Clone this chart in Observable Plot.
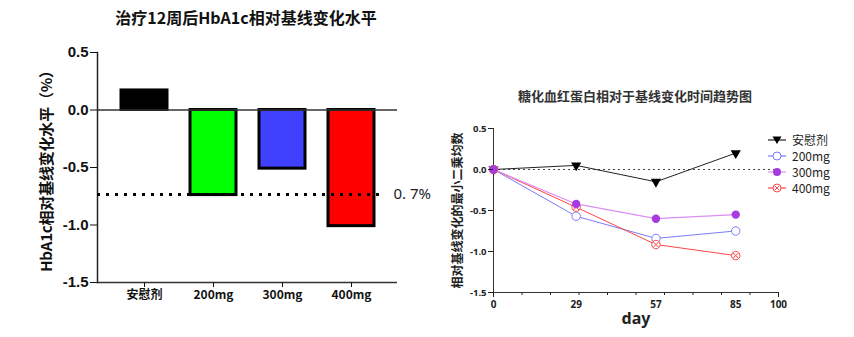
<!DOCTYPE html>
<html><head><meta charset="utf-8">
<script src="https://cdn.jsdelivr.net/npm/d3@7"></script>
<script src="https://cdn.jsdelivr.net/npm/@observablehq/plot@0.6"></script>
<style>
body{margin:0;background:#fff;width:854px;height:337px;position:relative;overflow:hidden;font-family:"Liberation Sans",Arial,"Noto Sans CJK SC",sans-serif;}
.abs{position:absolute;}
#t1{left:0;width:492px;top:5px;text-align:center;font:bold 16px "Noto Sans CJK SC",sans-serif;color:#111;}
#t2{left:430px;width:410px;top:86px;text-align:center;font:bold 13px "Noto Sans CJK SC",sans-serif;color:#333;}
#c1{left:0;top:40px;}
#c2{left:430px;top:110px;}
#c1 g[aria-label="y-axis tick label"] text{font-weight:bold;font-size:15px;font-family:"Liberation Sans",Arial,sans-serif;}
#c1 g[aria-label="y-axis label"] text{font-weight:bold;font-size:15px;font-family:"Noto Sans CJK SC",sans-serif;letter-spacing:-0.2px;}
#c1 g[aria-label="x-axis tick label"] text{font-weight:bold;font-size:12px;font-family:"Noto Sans CJK SC",sans-serif;}
#c2 g[aria-label="y-axis tick label"] text{font-weight:bold;font-size:9.5px;}
#c2 g[aria-label="y-axis label"] text{font-weight:bold;font-size:12px;font-family:"Noto Sans CJK SC",sans-serif;}
#c2 g[aria-label="x-axis tick label"] text{font-weight:bold;font-size:10px;}
#c2 g[aria-label="x-axis label"] text{font-weight:bold;font-size:16px;}
#legend{left:768px;top:132px;font:12px "Noto Sans CJK SC","Liberation Sans",sans-serif;color:#222;}
#legend .row{display:flex;align-items:center;height:16px;line-height:14px;}
#legend span{line-height:14px;}
#legend svg{margin-right:6px;flex:none;}
</style></head><body>
<div id="t1" class="abs">治疗12周后HbA1c相对基线变化水平</div>
<div id="c1" class="abs"></div>
<div id="t2" class="abs">糖化血红蛋白相对于基线变化时间趋势图</div>
<div id="c2" class="abs"></div>
<div id="legend" class="abs"></div>
<script>
// ---- left chart data ----
const groups = ["安慰剂", "200mg", "300mg", "400mg"];
const week12Change = [0.17, -0.74, -0.51, -1.01];
const barColors = ["#000000", "#00ff00", "#4040ff", "#ff0000"];
const refValue = -0.735;
const refLabel = "0. 7%";
const barTicks = [0.5, 0, -0.5, -1, -1.5];

// ---- right chart data ----
const days = [0, 29, 57, 85];
const seriesNames = ["安慰剂", "200mg", "300mg", "400mg"];
const placebo = [0, 0.05, -0.15, 0.2];
const mg200 = [0, -0.57, -0.84, -0.75];
const mg300 = [0, -0.42, -0.60, -0.55];
const mg400 = [0, -0.46, -0.915, -1.05];
const dayLabels = [0, 29, 57, 85, 100];
const dayMinorTicks = [0, 10, 20, 30, 40, 50, 60, 70, 80, 90, 100];
const lineTicks = [0.5, 0, -0.5, -1, -1.5];

const fmt = d => d.toFixed(1);

const barData = groups.map((g, i) => ({group: g, value: week12Change[i], color: barColors[i]}));

const p1 = Plot.plot({
  width: 430, height: 280,
  marginLeft: 97, marginRight: 33, marginTop: 12, marginBottom: 38,
  style: {background: "transparent", overflow: "visible", color: "#111"},
  x: {domain: groups, padding: 0.34, label: null},
  y: {domain: [-1.5, 0.5], label: null},
  color: {type: "identity"},
  marks: [
    Plot.barY(barData, {x: "group", y: "value", fill: "color", stroke: "#000", strokeWidth: 3}),
    Plot.ruleY([0], {stroke: "#333", strokeWidth: 1.3}),
    Plot.ruleY([-1.5], {stroke: "#333", strokeWidth: 1.3}),
    Plot.frame({anchor: "left", stroke: "#222", strokeWidth: 1.5}),
    Plot.ruleY([refValue], {stroke: "#000", strokeWidth: 3, strokeDasharray: "3,6", insetRight: 12}),
    Plot.text([refLabel], {y: [refValue], text: d => d, frameAnchor: "right", textAnchor: "start", dx: -4, fontSize: 15, fill: "#222"}),
    Plot.axisY({ticks: barTicks, tickFormat: fmt, tickSize: 7, tickPadding: 2,
      label: "HbA1c相对基线变化水平（%）", labelArrow: "none", labelAnchor: "center", labelOffset: 56}),
    Plot.axisX({tickSize: 5, tickPadding: 3, label: null})
  ]
});
document.getElementById("c1").append(p1);

// ---- right chart ----
const mk = vals => days.map((d, i) => ({day: d, value: vals[i]}));
const dPl = mk(placebo), d200 = mk(mg200), d300 = mk(mg300), d400 = mk(mg400);
const cPl = "#222", c200 = "#7b7bff", c300 = "#a63be0", c300line = "#dc8ef2", c400 = "#ff4545";

const p2 = Plot.plot({
  width: 424, height: 227,
  marginLeft: 63, marginRight: 76, marginTop: 18, marginBottom: 45,
  style: {background: "transparent", overflow: "visible", color: "#222"},
  x: {domain: [0, 100], label: null},
  y: {domain: [-1.5, 0.5], label: null},
  marks: [
    Plot.ruleY([0], {stroke: "#444", strokeDasharray: "2,3"}),
    Plot.ruleX([0], {stroke: "#333"}),
    Plot.ruleY([-1.5], {stroke: "#333"}),
    Plot.line(dPl, {x: "day", y: "value", stroke: cPl, strokeWidth: 1}),
    Plot.line(d200, {x: "day", y: "value", stroke: c200, strokeWidth: 1}),
    Plot.line(d400, {x: "day", y: "value", stroke: c400, strokeWidth: 1}),
    Plot.line(d300, {x: "day", y: "value", stroke: c300line, strokeWidth: 1.2}),
    Plot.dot(dPl, {x: "day", y: "value", symbol: "triangle", rotate: 180, fill: "#000", r: 3.8}),
    Plot.dot(d200, {x: "day", y: "value", symbol: "circle", stroke: c200, fill: "white", r: 4.2, strokeWidth: 1}),
    Plot.dot(d400, {x: "day", y: "value", symbol: "circle", stroke: c400, fill: "white", r: 4.2, strokeWidth: 1}),
    Plot.dot(d400, {x: "day", y: "value", symbol: "times", stroke: c400, r: 2.7, strokeWidth: 1}),
    Plot.dot(d300, {x: "day", y: "value", symbol: "circle", fill: c300, r: 4.2}),
    Plot.axisY({ticks: lineTicks, tickFormat: fmt, tickSize: 5, tickPadding: 2,
      label: "相对基线变化的最小二乘均数", labelArrow: "none", labelAnchor: "center", labelOffset: 40}),
    Plot.axisX({ticks: dayMinorTicks, tickSize: 3, tickFormat: () => "", label: null}),
    Plot.axisX({ticks: [0, 100], tickSize: 5, tickFormat: () => "", label: null}),
    Plot.axisX({ticks: dayLabels, tickSize: 0, tickPadding: 8, label: "day", labelArrow: "none", labelAnchor: "center", labelOffset: 31})
  ]
});
document.getElementById("c2").append(p2);

// ---- legend (HTML) ----
const legendItems = [
  {name: seriesNames[0], line: cPl, kind: "tri"},
  {name: seriesNames[1], line: c200, kind: "open", col: c200},
  {name: seriesNames[2], line: c300line, kind: "fill", col: c300},
  {name: seriesNames[3], line: c400, kind: "cross", col: c400}
];
const leg = document.getElementById("legend");
legendItems.forEach(it => {
  const row = document.createElement("div"); row.className = "row";
  const s = d3.create("svg").attr("width", 18).attr("height", 12);
  s.append("line").attr("x1", 0).attr("x2", 18).attr("y1", 6).attr("y2", 6).attr("stroke", it.line).attr("stroke-width", 1.2);
  if (it.kind === "tri") s.append("path").attr("d", "M4.5,2.5L13.5,2.5L9,10Z").attr("fill", "#000");
  if (it.kind === "open") s.append("circle").attr("cx", 9).attr("cy", 6).attr("r", 4).attr("fill", "white").attr("stroke", it.col);
  if (it.kind === "fill") s.append("circle").attr("cx", 9).attr("cy", 6).attr("r", 4).attr("fill", it.col);
  if (it.kind === "cross") {
    s.append("circle").attr("cx", 9).attr("cy", 6).attr("r", 4).attr("fill", "white").attr("stroke", it.col);
    s.append("path").attr("d", "M7,4L11,8M11,4L7,8").attr("stroke", it.col);
  }
  row.append(s.node());
  const t = document.createElement("span"); t.textContent = it.name; row.append(t);
  leg.append(row);
});
</script>
</body></html>
